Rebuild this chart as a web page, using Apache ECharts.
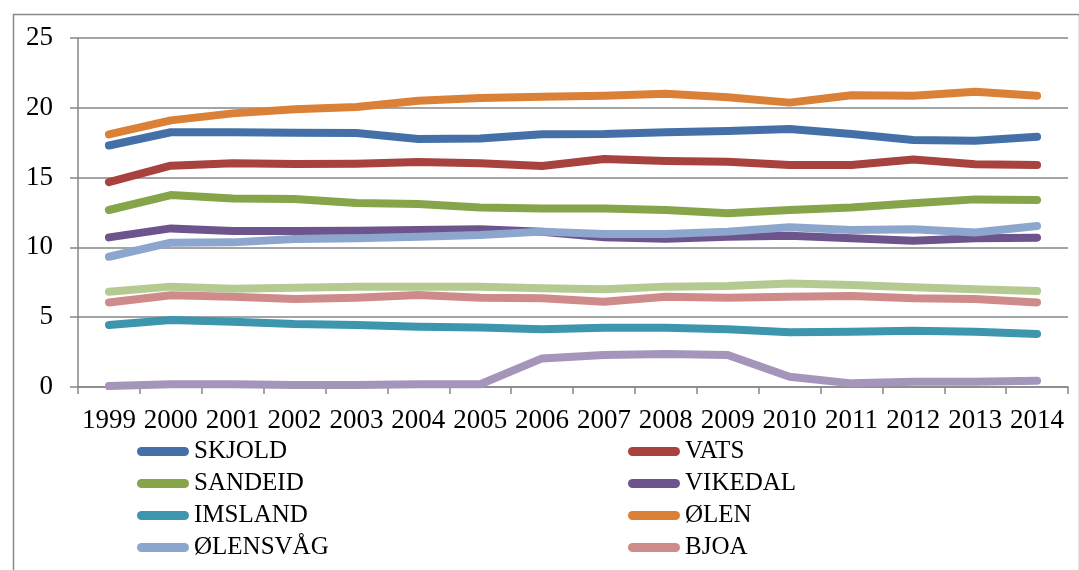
<!DOCTYPE html>
<html>
<head>
<meta charset="utf-8">
<script src="https://cdn.jsdelivr.net/npm/echarts@6/dist/echarts.min.js"></script>
<style>
html,body{margin:0;padding:0;background:#fff;}
#chart{width:1079px;height:570px;}
</style>
</head>
<body>
<div id="chart"></div>
<script>
const years = ['1999','2000','2001','2002','2003','2004','2005','2006','2007','2008','2009','2010','2011','2012','2013','2014'];
const yTicks = [0, 5, 10, 15, 20, 25];

const skjold    = [17.3, 18.25, 18.25, 18.22, 18.2, 17.77, 17.8, 18.1, 18.12, 18.24, 18.34, 18.48, 18.12, 17.69, 17.64, 17.93];
const vats      = [14.68, 15.85, 16.02, 15.97, 16.0, 16.12, 16.02, 15.83, 16.33, 16.19, 16.14, 15.9, 15.9, 16.3, 15.95, 15.9];
const sandeid   = [12.68, 13.75, 13.5, 13.47, 13.18, 13.11, 12.85, 12.78, 12.78, 12.68, 12.44, 12.68, 12.85, 13.16, 13.44, 13.4];
const vikedal   = [10.72, 11.36, 11.17, 11.17, 11.2, 11.24, 11.3, 11.12, 10.72, 10.62, 10.77, 10.84, 10.65, 10.48, 10.65, 10.7];
const imsland   = [4.44, 4.8, 4.68, 4.51, 4.44, 4.32, 4.27, 4.13, 4.25, 4.25, 4.13, 3.92, 3.96, 4.03, 3.96, 3.8];
const olen      = [18.1, 19.1, 19.6, 19.9, 20.05, 20.5, 20.7, 20.8, 20.87, 21.0, 20.75, 20.37, 20.9, 20.87, 21.15, 20.87];
const olensvag  = [9.33, 10.34, 10.36, 10.6, 10.65, 10.77, 10.89, 11.13, 10.96, 10.96, 11.13, 11.44, 11.25, 11.3, 11.06, 11.53];
const bjoa      = [6.06, 6.57, 6.47, 6.3, 6.4, 6.59, 6.4, 6.35, 6.11, 6.47, 6.4, 6.47, 6.52, 6.35, 6.3, 6.06];
const serie9    = [6.83, 7.19, 7.04, 7.11, 7.19, 7.19, 7.19, 7.07, 7.0, 7.19, 7.23, 7.42, 7.3, 7.14, 7.0, 6.88];
const serie10   = [0.07, 0.2, 0.2, 0.14, 0.14, 0.2, 0.2, 2.05, 2.29, 2.36, 2.29, 0.74, 0.26, 0.38, 0.38, 0.45];

const seriesNames = ['SKJOLD','VATS','SANDEID','VIKEDAL','IMSLAND','ØLEN','ØLENSVÅG','BJOA','Serie9','Serie10'];
const seriesData  = [skjold, vats, sandeid, vikedal, imsland, olen, olensvag, bjoa, serie9, serie10];
const colors = ['#4470A7','#A8423F','#86A44A','#6E548D','#3D96AE','#DA8137','#8CA6CE','#CF8B8A','#B4CA91','#A595BA'];

const legendLeft  = ['SKJOLD','SANDEID','IMSLAND','ØLENSVÅG'];
const legendRight = ['VATS','VIKEDAL','ØLEN','BJOA'];

const FONT = '"Liberation Serif", "DejaVu Serif", serif';
const pill = 'path://M4.5,0H47.5A4.5,4.5,0,0,1,47.5,9H4.5A4.5,4.5,0,0,1,4.5,0Z';

const chart = echarts.init(document.getElementById('chart'), null, {renderer: 'canvas'});

const legendCommon = {
  orient: 'vertical',
  top: 439,
  padding: 0,
  itemGap: 7,
  itemWidth: 52,
  itemHeight: 9,
  icon: pill,
  selectedMode: false,
  textStyle: {fontFamily: FONT, fontSize: 25, color: '#000', padding: [0,0,0,0]}
};

chart.setOption({
  animation: false,
  color: colors,
  graphic: [{
    type: 'rect',
    left: 11, top: 12,
    shape: {width: 1066, height: 620},
    style: {fill: 'none', stroke: '#8A8A8A', lineWidth: 1.5},
    silent: true
  }],
  grid: {left: 78, right: 11, top: 38, bottom: 183},
  legend: [
    Object.assign({}, legendCommon, {left: 137, data: legendLeft}),
    Object.assign({}, legendCommon, {left: 628, data: legendRight})
  ],
  xAxis: {
    type: 'category',
    data: years,
    boundaryGap: true,
    axisLine: {show: true, lineStyle: {color: '#868686', width: 1.5}},
    axisTick: {show: true, length: 7, lineStyle: {color: '#868686', width: 1.5}},
    axisLabel: {fontFamily: FONT, fontSize: 27, color: '#000', margin: 20, interval: 0},
    splitLine: {show: false}
  },
  yAxis: {
    type: 'value',
    min: yTicks[0], max: yTicks[yTicks.length-1], interval: 5,
    axisLine: {show: true, lineStyle: {color: '#868686', width: 1.5}},
    axisTick: {show: true, length: 8, lineStyle: {color: '#868686', width: 1.5}},
    axisLabel: {fontFamily: FONT, fontSize: 27, color: '#000', margin: 25},
    splitLine: {show: true, lineStyle: {color: '#868686', width: 1.5}}
  },
  series: seriesNames.map((n, i) => ({
    name: n,
    type: 'line',
    data: seriesData[i],
    symbol: 'none',
    smooth: false,
    lineStyle: {width: 8, cap: 'round', join: 'round', color: colors[i]},
    itemStyle: {color: colors[i]},
    emphasis: {disabled: true}
  }))
});
</script>
</body>
</html>
